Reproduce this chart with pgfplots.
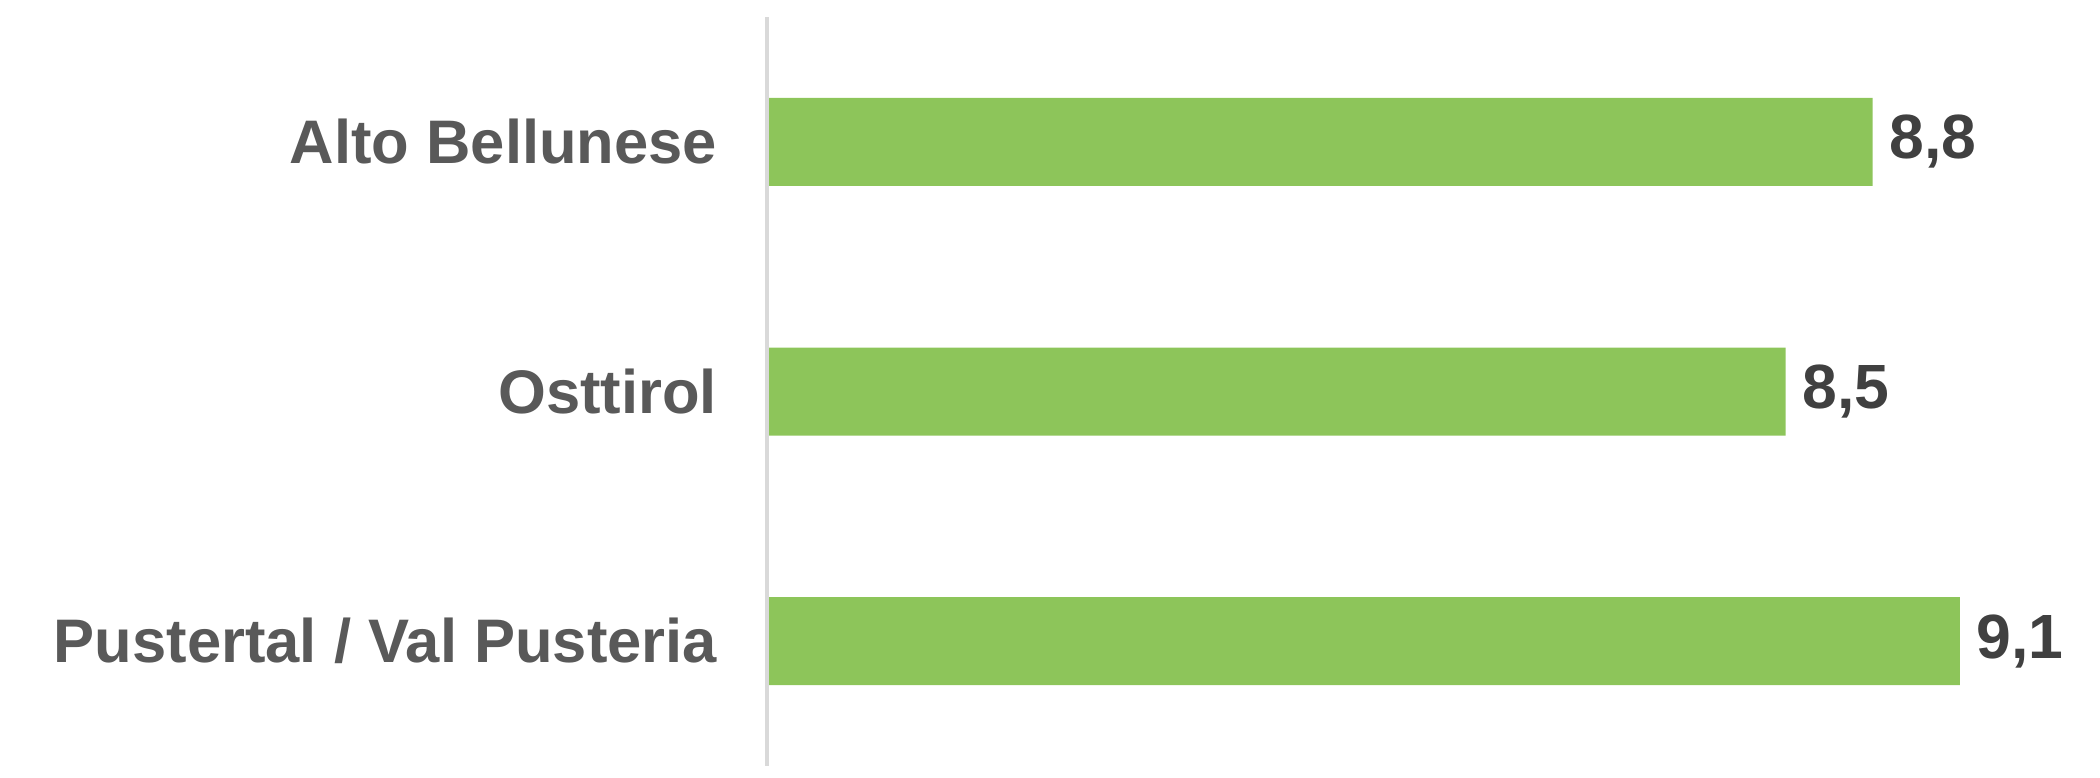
\documentclass[border=0pt]{standalone}
\usepackage{fontspec}
\setmainfont{Liberation Sans}
\usepackage{pgfplots}
\pgfplotsset{compat=1.18}
\definecolor{barg}{HTML}{8DC55A}
\definecolor{lblg}{HTML}{595959}
\definecolor{valg}{HTML}{404040}
\definecolor{axg}{HTML}{D9D9D9}
\begin{document}
\begin{tikzpicture}
\useasboundingbox (0,0) rectangle (420pt,155.4pt);
\begin{axis}[
  at={(153.8pt,2.2pt)}, anchor=south west,
  scale only axis, width=267.2pt, height=149.8pt,
  xbar, bar width=17.6pt,
  xmin=5, xmax=9.6, ymin=-0.5, ymax=2.5,
  y dir=reverse,
  hide x axis,
  axis y line*=left,
  y axis line style={draw=axg, line width=0.7pt, -, xshift=-0.4pt},
  ytick={0,1,2}, major tick length=0pt,
  yticklabels={Alto Bellunese, Osttirol, Pustertal / Val Pusteria},
  yticklabel style={font=\fontsize{12.3}{14}\selectfont\bfseries, text=lblg, inner sep=0pt, anchor=east, xshift=-10.2pt},
  nodes near coords={\pgfmathprintnumber[use comma, fixed, fixed zerofill, precision=1, assume math mode=true]{\pgfplotspointmeta}},
  nodes near coords style={font=\fontsize{12.5}{14}\selectfont\bfseries, text=valg, inner sep=0pt, anchor=west, xshift=3.2pt},
  point meta=explicit,
  clip=false,
]
\addplot[fill=barg, draw=none] coordinates {(8.8,0) [8.8] (8.5,1) [8.5] (9.1,2) [9.1]};
\end{axis}
\end{tikzpicture}
\end{document}
